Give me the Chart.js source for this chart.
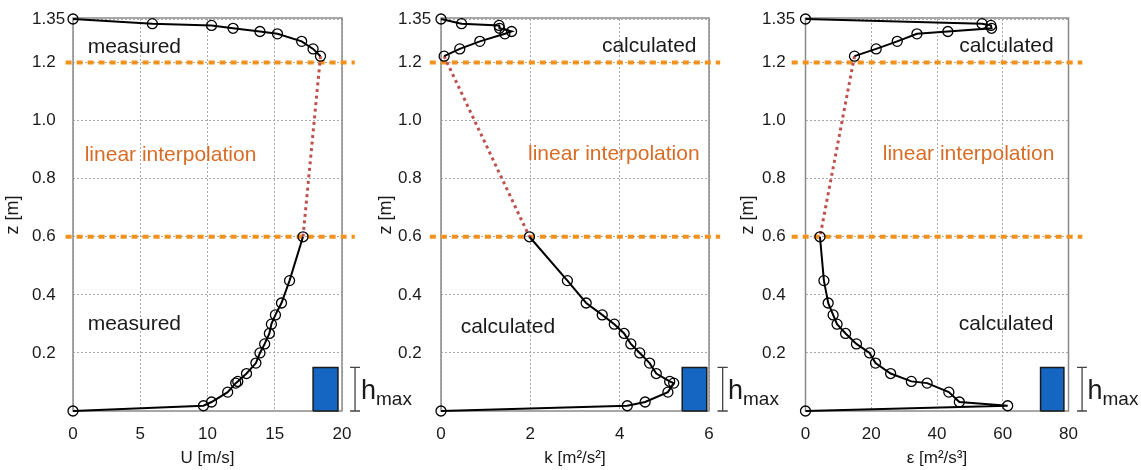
<!DOCTYPE html>
<html><head><meta charset="utf-8">
<script src="https://cdn.jsdelivr.net/npm/chart.js@4.4.0/dist/chart.umd.min.js"></script>
<style>
html,body{margin:0;padding:0;background:#fff;width:1141px;height:470px;overflow:hidden;position:relative}
canvas{position:absolute;top:0}
</style></head><body>
<canvas id="c1" width="420" height="470" style="left:0px"></canvas>
<canvas id="c2" width="420" height="470" style="left:370px"></canvas>
<canvas id="c3" width="401" height="470" style="left:740px"></canvas>
<script>
// ---- data ----
const zUpper = [1.35, 1.334, 1.328, 1.318, 1.307, 1.299, 1.273, 1.247, 1.222];
const zLower = [0.600, 0.449, 0.372, 0.331, 0.299, 0.267, 0.231, 0.200, 0.165, 0.129, 0.102, 0.096, 0.065, 0.031, 0.018, 0];
const uUpper = [0, 5.9, 10.3, 11.9, 13.9, 15.2, 17.0, 17.85, 18.4];
const uLower = [17.1, 16.1, 15.5, 15.05, 14.75, 14.6, 14.25, 13.9, 13.6, 12.9, 12.25, 12.1, 11.5, 10.3, 9.7, 0];
const kUpper = [0, 0.46, 1.30, 1.31, 1.58, 1.43, 0.87, 0.42, 0.07];
const kLower = [1.98, 2.83, 3.25, 3.61, 3.88, 4.10, 4.25, 4.45, 4.67, 4.82, 5.12, 5.21, 5.08, 4.57, 4.17, 0];
const epsUpper = [0, 53.7, 56.4, 56.6, 43.3, 33.9, 27.9, 21.5, 14.9];
const epsLower = [4.4, 5.6, 6.9, 8.4, 9.6, 12.2, 15.5, 19.5, 21.3, 25.9, 32.2, 37.0, 43.6, 46.8, 61.5, 0];
const zTicks = [0.2, 0.4, 0.6, 0.8, 1.0, 1.2, 1.35];
const uTicks = [0, 5, 10, 15, 20];
const kTicks = [0, 2, 4, 6];
const epsTicks = [0, 20, 40, 60, 80];
const bandLevels = [1.2, 0.6];
const hMax = 0.15;
const uRect = [17.85, 19.7];
const kRect = [5.40, 5.95];
const epsRect = [71.5, 78.6];

// ---- styles ----
const FONT = "'Liberation Sans', Arial, Helvetica, sans-serif";
const ORANGE = '#F2911B';
const ORANGE_TXT = '#D86B25';
const INTERP = '#C0504D';
const TXT = '#1a1a1a';
Chart.defaults.font.family = FONT;
Chart.defaults.color = TXT;
Chart.defaults.animation = false;

function pts(xs, zs) { return xs.map((x, i) => ({x: x, y: zs[i]})); }

function panel(id, o) {
  const mainStyle = {showLine: true, borderColor: '#000', borderWidth: 2, tension: 0,
    pointRadius: 5, pointHoverRadius: 5, pointBorderColor: '#000', pointBackgroundColor: 'rgba(0,0,0,0)',
    pointBorderWidth: 1.3, clip: false};
  const bm = o.bracket[1], b0 = o.bracket[0], b1 = o.bracket[2];
  const datasets = [
    Object.assign({data: pts(o.xu, zUpper)}, mainStyle),
    Object.assign({data: pts(o.xl, zLower)}, mainStyle),
    {data: [{x: o.xu[o.xu.length - 1], y: zUpper[zUpper.length - 1]}, {x: o.xl[0], y: zLower[0]}],
      showLine: true, borderColor: INTERP, borderWidth: 3, borderDash: [3, 3.6], pointRadius: 0, clip: false},
  ];
  bandLevels.forEach(lv => datasets.push({data: [{x: o.ext[0], y: lv}, {x: o.ext[1], y: lv}],
    showLine: true, borderColor: ORANGE, borderWidth: 4, borderDash: [6, 5], pointRadius: 0, clip: false}));
  datasets.push({data: [{x: b0, y: 0}, {x: b1, y: 0}, {x: null, y: null}, {x: bm, y: 0}, {x: bm, y: hMax},
      {x: null, y: null}, {x: b0, y: hMax}, {x: b1, y: hMax}],
    showLine: true, spanGaps: false, borderColor: '#444', borderWidth: 1.3, pointRadius: 0, clip: false});
  datasets.push({data: [{x: o.rect[0], y: 0}, {x: o.rect[0], y: hMax}, {x: o.rect[1], y: hMax}, {x: o.rect[1], y: 0}, {x: o.rect[0], y: 0}],
    showLine: true, borderColor: '#1b1b1b', borderWidth: 1.5, backgroundColor: '#1466C2', fill: 'shape', pointRadius: 0, clip: false});

  const deco = {
    id: 'deco' + id,
    beforeDatasetsDraw(chart) {
      const a = chart.chartArea, ctx = chart.ctx;
      ctx.save();
      ctx.strokeStyle = '#8a8a8a'; ctx.lineWidth = 1.5;
      ctx.strokeRect(a.left, a.top - 1, a.right - a.left, a.bottom - a.top + 1);
      ctx.restore();
    },
    afterDraw(chart) {
      const a = chart.chartArea, ctx = chart.ctx, xs = chart.scales.x, ys = chart.scales.y;
      ctx.save();
      ctx.textBaseline = 'alphabetic';
      o.labels.forEach(l => {
        ctx.font = '21px ' + FONT;
        ctx.fillStyle = l.color || TXT;
        ctx.textAlign = l.align;
        ctx.fillText(l.text, xs.getPixelForValue(l.x), ys.getPixelForValue(l.y));
      });
      // h_max
      ctx.textAlign = 'left'; ctx.fillStyle = TXT;
      ctx.font = '27px ' + FONT;
      const hx = a.right + 19;
      ctx.fillText('h', hx, a.bottom - 12);
      const hw = ctx.measureText('h').width;
      ctx.font = '19px ' + FONT;
      ctx.fillText('max', hx + hw, a.bottom - 6);
      // y title
      ctx.translate(o.zTitleX, (a.top + a.bottom) / 2);
      ctx.rotate(-Math.PI / 2);
      ctx.font = '18px ' + FONT;
      ctx.textAlign = 'center'; ctx.textBaseline = 'middle';
      ctx.fillText('z [m]', 0, 0);
      ctx.restore();
    }
  };

  return new Chart(document.getElementById(id), {
    type: 'scatter',
    data: {datasets: datasets},
    options: {
      responsive: false,
      layout: {padding: {left: o.padL, right: o.padR, top: 19, bottom: 0}},
      plugins: {legend: {display: false}, tooltip: {enabled: false}},
      scales: {
        x: {type: 'linear', min: o.xTicks[0], max: o.xTicks[o.xTicks.length - 1],
          afterBuildTicks: s => { s.ticks = o.xTicks.map(v => ({value: v})); },
          grid: {color: '#a8a8a8', lineWidth: 1, drawTicks: false},
          border: {display: false, dash: [2, 2]},
          ticks: {padding: 13, font: {size: 17}, color: TXT, maxRotation: 0, autoSkip: false},
          title: {display: true, text: o.xTitle, font: {size: 17}, color: TXT, padding: {top: 0, bottom: 1}},
          afterFit: s => { s.height = 59; }
        },
        y: {type: 'linear', min: 0, max: 1.35,
          afterBuildTicks: s => { s.ticks = zTicks.map(v => ({value: v})); },
          grid: {color: '#a8a8a8', lineWidth: 1, drawTicks: false},
          border: {display: false, dash: [2, 2]},
          ticks: {crossAlign: 'far', padding: 3, font: {size: 17}, color: TXT, autoSkip: false,
            callback: v => (v === 1.35 ? '1.35' : v.toFixed(1))},
          afterFit: s => { s.width = o.yW; }
        }
      }
    },
    plugins: [deco]
  });
}

panel('c1', {xu: uUpper, xl: uLower, xTicks: uTicks, xTitle: 'U [m/s]', rect: uRect,
  ext: [-0.55, 20.95], bracket: [20.6, 20.97, 21.34], padL: 32, padR: 78, yW: 41, zTitleX: 13,
  labels: [
    {text: 'measured', x: 1.09, y: 1.233, align: 'left'},
    {text: 'linear interpolation', x: 0.87, y: 0.861, align: 'left', color: ORANGE_TXT},
    {text: 'measured', x: 1.09, y: 0.279, align: 'left'}
  ]});
panel('c2', {xu: kUpper, xl: kLower, xTicks: kTicks, xTitle: 'k [m²/s²]', rect: kRect,
  ext: [-0.25, 6.25], bracket: [6.19, 6.306, 6.42], padL: 28, padR: 81, yW: 43, zTitleX: 16,
  labels: [
    {text: 'calculated', x: 5.72, y: 1.236, align: 'right'},
    {text: 'linear interpolation', x: 5.79, y: 0.864, align: 'right', color: ORANGE_TXT},
    {text: 'calculated', x: 0.44, y: 0.27, align: 'left'}
  ]});
panel('c3', {xu: epsUpper, xl: epsLower, xTicks: epsTicks, xTitle: 'ε [m²/s³]', rect: epsRect,
  ext: [-4.2, 84.2], bracket: [82.6, 84.13, 85.6], padL: 22, padR: 72.5, yW: 43.5, zTitleX: 8,
  labels: [
    {text: 'calculated', x: 75.5, y: 1.237, align: 'right'},
    {text: 'linear interpolation', x: 75.7, y: 0.864, align: 'right', color: ORANGE_TXT},
    {text: 'calculated', x: 75.4, y: 0.279, align: 'right'}
  ]});
</script>
</body></html>
